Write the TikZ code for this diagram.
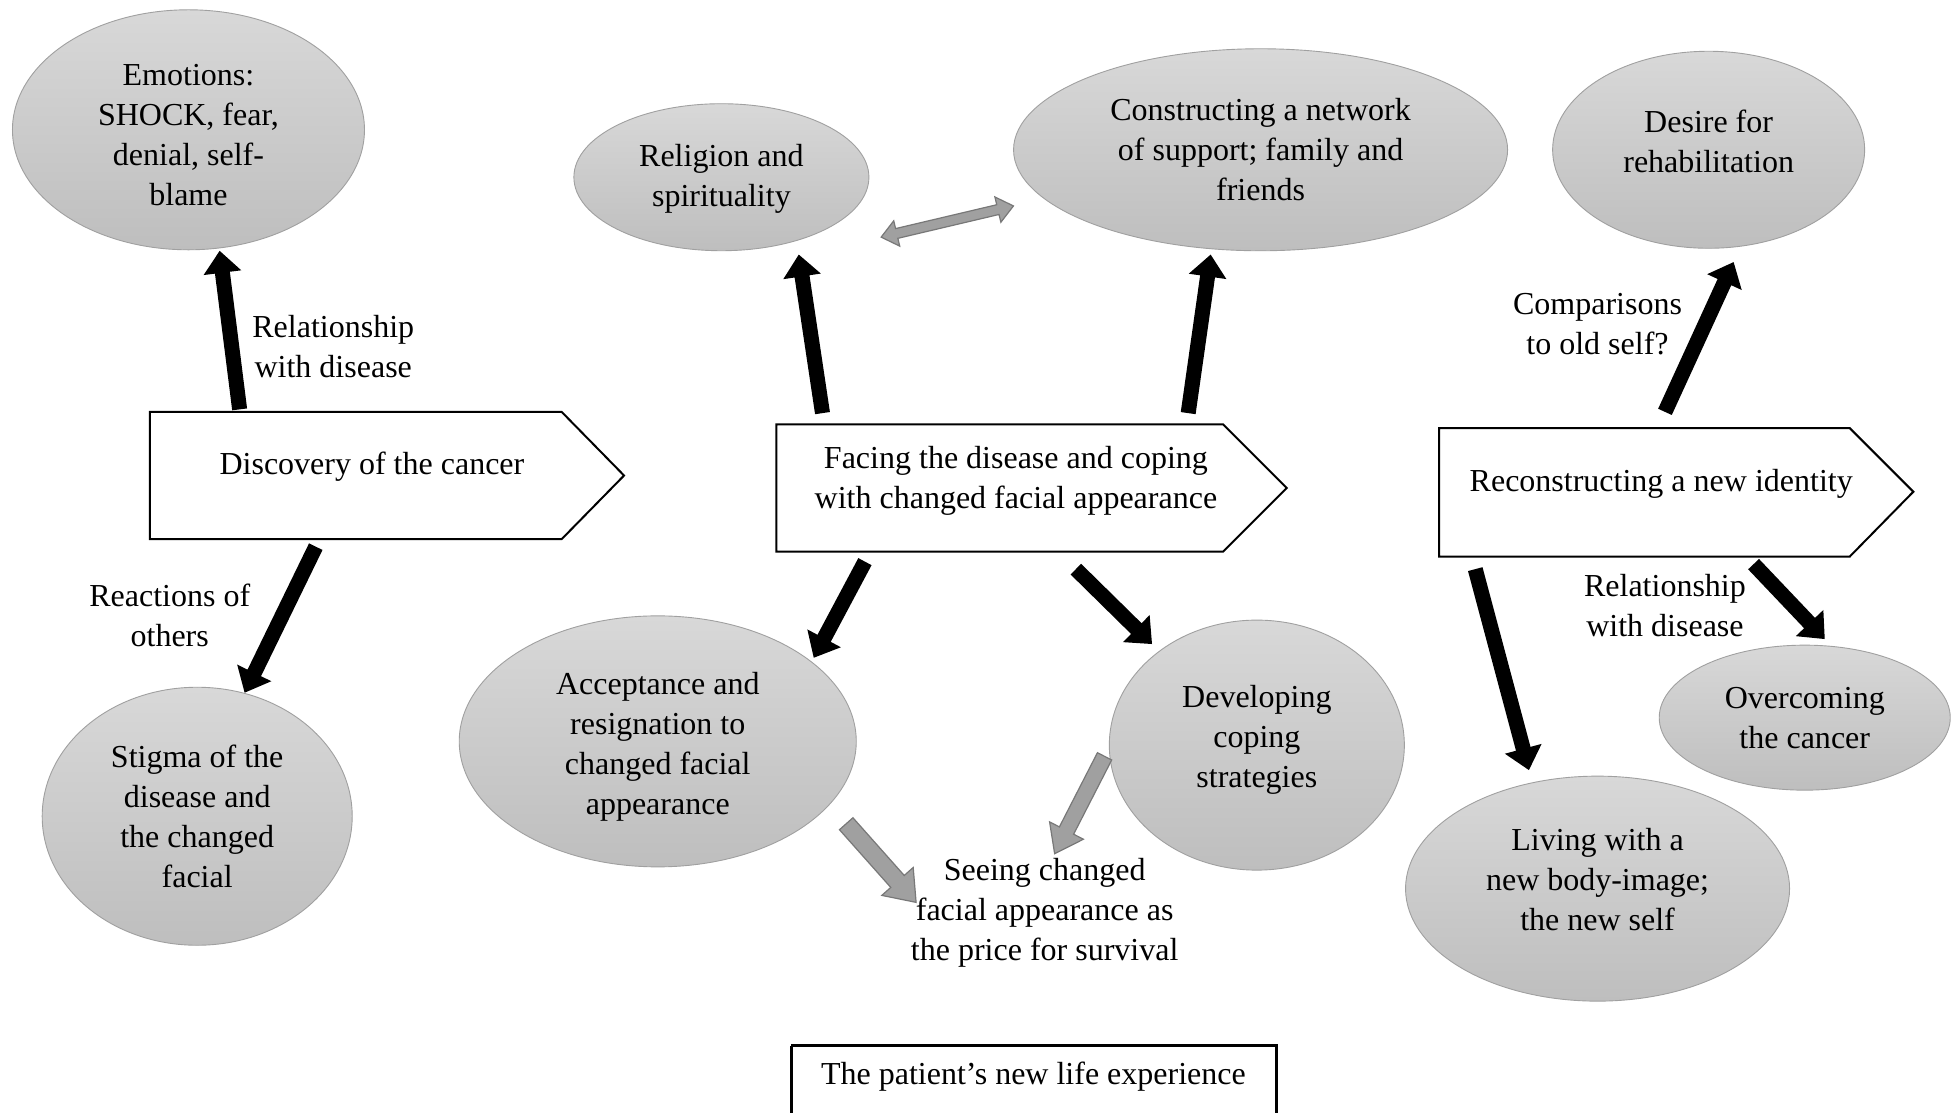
\documentclass[tikz,border=0pt]{standalone}
\usepackage{fontspec}
\setmainfont{Liberation Serif}
\usetikzlibrary{shapes.geometric,calc}
\definecolor{elltop}{RGB}{216,216,216}
\definecolor{ellbot}{RGB}{190,190,190}
\definecolor{ellline}{RGB}{160,160,160}
\definecolor{garrow}{RGB}{160,160,160}
\definecolor{garrowline}{RGB}{120,120,120}
\newcommand{\blockarrow}[6]{%
  \coordinate (bah) at ($(#3)!#6!(#2)$);
  \path[#1] ($(#2)!#4!90:(#3)$) -- ($(bah)!#4!90:(#3)$) -- ($(bah)!#5!90:(#3)$) -- (#3)
    -- ($(bah)!#5!-90:(#3)$) -- ($(bah)!#4!-90:(#3)$) -- ($(#2)!#4!-90:(#3)$) -- cycle;
}
\newcommand{\dblarrow}[6]{%
  \coordinate (bah) at ($(#3)!#6!(#2)$);
  \coordinate (bat) at ($(#2)!#6!(#3)$);
  \path[#1] ($(bat)!#4!90:(#3)$) -- ($(bah)!#4!90:(#3)$) -- ($(bah)!#5!90:(#3)$) -- (#3)
    -- ($(bah)!#5!-90:(#3)$) -- ($(bah)!#4!-90:(#3)$) -- ($(bat)!#4!-90:(#3)$)
    -- ($(bat)!#5!-90:(#3)$) -- (#2) -- ($(bat)!#5!90:(#3)$) -- cycle;
}
\tikzset{
  ell/.style={shape=ellipse, inner sep=0pt, draw=ellline, line width=0.9pt,
    top color=elltop, bottom color=ellbot},
  txt/.style={font=\fontsize{32}{40}\selectfont, align=center, inner sep=0pt},
  chev/.style={draw=black, line width=2pt, fill=white, line join=miter},
  blk/.style={fill=black},
  gry/.style={fill=garrow, draw=garrowline, line width=1.2pt, line join=miter},
}
\begin{document}
\begin{tikzpicture}[x=1.248pt, y=-1.248pt]
\clip (0,0) rectangle (1568,891);
\fill[white] (0,0) rectangle (1568,891);

% ellipses
\node[ell, minimum width=352pt, minimum height=240pt] (emo) at (151,104) {};
\node[txt] (emot) at (151,108) {Emotions:\\SHOCK, fear,\\denial, self-\\blame};
\node[ell, minimum width=295pt, minimum height=147pt] (rel) at (578,142) {};
\node[txt] (relt) at (578,143) {Religion and\\spirituality};
\node[ell, minimum width=494pt, minimum height=202pt] (net) at (1010,120) {};
\node[txt] (nett) at (1010,120) {Constructing a network\\of support; family and\\friends};
\node[ell, minimum width=312pt, minimum height=197pt] (des) at (1369,120) {};
\node[txt] (dest) at (1369,113) {Desire for\\rehabilitation};
\node[ell, minimum width=310pt, minimum height=258pt] (sti) at (158,654) {};
\node[txt] (stit) at (158,654) {Stigma of the\\disease and\\the changed\\facial};
\node[ell, minimum width=397pt, minimum height=251pt] (acc) at (527,594) {};
\node[txt] (acct) at (527,598) {Acceptance and\\resignation to\\changed facial\\appearance};
\node[ell, minimum width=295pt, minimum height=250pt] (dev) at (1007,597) {};
\node[txt] (devt) at (1007,593) {Developing\\coping\\strategies};
\node[ell, minimum width=291pt, minimum height=145pt] (ove) at (1446,575) {};
\node[txt] (ovet) at (1446,575) {Overcoming\\the cancer};
\node[ell, minimum width=384pt, minimum height=225pt] (liv) at (1280,712) {};
\node[txt] (livt) at (1280,705) {Living with a\\new body-image;\\the new self};

% chevrons
\draw[chev] (120,330) -- (450,330) -- (500,381) -- (450,432) -- (120,432) -- cycle;
\node[txt] (disc) at (298,374) {Discovery of the cancer};
\draw[chev] (622,340) -- (980,340) -- (1031,391) -- (980,442) -- (622,442) -- cycle;
\node[txt] (face) at (814,385) {Facing the disease and coping\\with changed facial appearance};
\draw[chev] (1153,343) -- (1482,343) -- (1533,394) -- (1482,446) -- (1153,446) -- cycle;
\node[txt] (reco) at (1331,388) {Reconstructing a new identity};

% labels
\node[txt] (lab1) at (267,278) {Relationship\\with disease};
\node[txt] (lab2) at (136,493) {Reactions of\\others};
\node[txt] (lab3) at (1280,260) {Comparisons\\to old self?};
\node[txt] (lab4) at (1334,485) {Relationship\\with disease};
\node[txt] (seei) at (837,731) {Seeing changed\\facial appearance as\\the price for survival};

% bottom box
\draw[line width=3pt] (634,838) -- (634,900) (634,838) -- (1023,838) -- (1023,900);
\node[txt] (life) at (828,863) {The patient’s new life experience};

% arrow end points
\coordinate (a1s) at (192,328);  \coordinate (a1e) at (176,201);
\coordinate (a2s) at (253,438);  \coordinate (a2e) at (196,555);
\coordinate (a3s) at (659,331);  \coordinate (a3e) at (640,204);
\coordinate (a4s) at (952,331);  \coordinate (a4e) at (970,204);
\coordinate (a5s) at (693,450);  \coordinate (a5e) at (652,527);
\coordinate (a6s) at (862,456);  \coordinate (a6e) at (923,516);
\coordinate (a7s) at (1334,330); \coordinate (a7e) at (1389,210);
\coordinate (a8s) at (1182,456); \coordinate (a8e) at (1225,617);
\coordinate (a9s) at (1405,452); \coordinate (a9e) at (1462,512);
\coordinate (g1s) at (706,190);  \coordinate (g1e) at (812,165);
\coordinate (g2s) at (885,606);  \coordinate (g2e) at (845,684);
\coordinate (g3s) at (678,660);  \coordinate (g3e) at (734,723);

% black arrows
\blockarrow{blk}{a1s}{a1e}{7.5pt}{19pt}{22pt}
\blockarrow{blk}{a2s}{a2e}{7.5pt}{19pt}{22pt}
\blockarrow{blk}{a3s}{a3e}{7.5pt}{19pt}{22pt}
\blockarrow{blk}{a4s}{a4e}{7.5pt}{19pt}{22pt}
\blockarrow{blk}{a5s}{a5e}{7.5pt}{19pt}{22pt}
\blockarrow{blk}{a6s}{a6e}{7.5pt}{19pt}{22pt}
\blockarrow{blk}{a7s}{a7e}{7.5pt}{19pt}{22pt}
\blockarrow{blk}{a8s}{a8e}{7.5pt}{19pt}{22pt}
\blockarrow{blk}{a9s}{a9e}{7.5pt}{19pt}{22pt}

% gray arrows
\dblarrow{gry}{g1s}{g1e}{5pt}{13pt}{16pt}
\blockarrow{gry}{g2s}{g2e}{8pt}{19pt}{26pt}
\blockarrow{gry}{g3s}{g3e}{9pt}{21pt}{28pt}
\end{tikzpicture}
\end{document}
